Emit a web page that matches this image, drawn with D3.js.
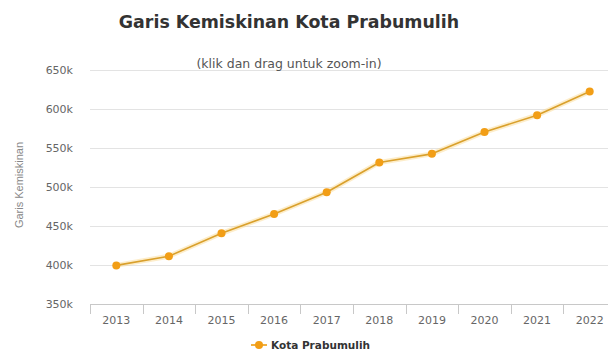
<!DOCTYPE html>
<html>
<head>
<meta charset="utf-8">
<script src="https://cdn.jsdelivr.net/npm/d3@7"></script>
<style>
  html, body { margin: 0; padding: 0; background: #fff; }
  svg { display: block; }
</style>
</head>
<body>
<div id="chart"></div>
<script>
"use strict";

const years = ['2013', '2014', '2015', '2016', '2017', '2018', '2019', '2020', '2021', '2022']
    , garisKemiskinan = [399500, 411300, 440600, 465400, 493200, 531500, 542500, 570500, 592000, 622500]
    , yTicks = [350000, 400000, 450000, 500000, 550000, 600000, 650000]
    , seriesName = 'Kota Prabumulih'

const WIDTH = 608
    , HEIGHT = 358
    , FONT = '"DejaVu Sans", Verdana, sans-serif'
    , ORANGE = '#f29e16'

const svg = d3.select('#chart').append('svg')
  .attr('width', WIDTH)
  .attr('height', HEIGHT)

/*
 * Scales. The plot runs a little past the right edge, like the screenshot
 ***/
const xScale = d3.scaleBand()
  .domain(years)
  .range([90, 616])

const yScale = d3.scaleLinear()
  .domain([350000, 650000])
  .range([304, 70])

const xCenter = d => xScale(d) + xScale.bandwidth() / 2

/*
 * Grid lines and y labels
 ***/
const yAxis = d3.axisLeft(yScale)
  .tickValues(yTicks)
  .tickSize(0)
  .tickPadding(17)
  .tickFormat(d => (d / 1000) + 'k')

const yAxisG = svg.append('g')
  .attr('transform', 'translate(90,0)')
  .call(yAxis)

yAxisG.select('.domain').remove()
yAxisG.selectAll('text')
  .attr('fill', '#666')
  .style('font-family', FONT)
  .style('font-size', '11px')

svg.append('g')
  .selectAll('line')
  .data(yTicks.slice(1))
  .enter()
  .append('line')
  .attr('x1', 90)
  .attr('x2', 616)
  .attr('y1', d => Math.round(yScale(d)) + 0.5)
  .attr('y2', d => Math.round(yScale(d)) + 0.5)
  .attr('stroke', '#e3e3e3')

/*
 * X axis, ticks between the categories
 ***/
const xAxis = d3.axisBottom(xScale)
  .tickSize(0)
  .tickPadding(12)

const xAxisG = svg.append('g')
  .attr('transform', 'translate(0,304)')
  .call(xAxis)

xAxisG.select('.domain')
  .attr('stroke', '#c8c8c8')
xAxisG.selectAll('text')
  .attr('fill', '#666')
  .style('font-family', FONT)
  .style('font-size', '11px')

xAxisG.append('g')
  .selectAll('line')
  .data(years)
  .enter()
  .append('line')
  .attr('x1', d => Math.round(xScale(d)) + 0.5)
  .attr('x2', d => Math.round(xScale(d)) + 0.5)
  .attr('y1', 0)
  .attr('y2', 10)
  .attr('stroke', '#c8c8c8')

/*
 * Titles
 ***/
svg.append('text')
  .attr('x', 289)
  .attr('y', 28)
  .attr('text-anchor', 'middle')
  .attr('fill', '#333')
  .style('font-family', FONT)
  .style('font-weight', 'bold')
  .style('font-size', '17.4px')
  .text('Garis Kemiskinan Kota Prabumulih')

svg.append('text')
  .attr('x', 289)
  .attr('y', 68)
  .attr('text-anchor', 'middle')
  .attr('fill', '#555')
  .style('font-family', FONT)
  .style('font-size', '12.5px')
  .text('(klik dan drag untuk zoom-in)')

svg.append('text')
  .attr('transform', 'translate(23,185) rotate(-90)')
  .attr('text-anchor', 'middle')
  .attr('fill', '#888')
  .style('font-family', '"Liberation Sans", Arial, sans-serif')
  .style('font-size', '11px')
  .text('Garis Kemiskinan')

/*
 * The series: a soft halo, the line and the markers
 ***/
const points = years.map((y, i) => [xCenter(y), yScale(garisKemiskinan[i])])
const line = d3.line()

svg.append('path')
  .attr('d', line(points))
  .attr('fill', 'none')
  .attr('stroke', '#fbd88a')
  .attr('stroke-opacity', 0.45)
  .attr('stroke-width', 5)
  .attr('stroke-linejoin', 'round')

svg.append('path')
  .attr('d', line(points))
  .attr('fill', 'none')
  .attr('stroke', '#d9a02c')
  .attr('stroke-width', 1.6)
  .attr('stroke-linejoin', 'round')

svg.append('g')
  .selectAll('circle')
  .data(points)
  .enter()
  .append('circle')
  .attr('cx', d => d[0])
  .attr('cy', d => d[1])
  .attr('r', 4)
  .attr('fill', ORANGE)

/*
 * Legend
 ***/
const legend = svg.append('g')
  .attr('transform', 'translate(251,345)')

legend.append('line')
  .attr('x1', 0)
  .attr('x2', 16)
  .attr('stroke', '#f0b040')
  .attr('stroke-width', 2)

legend.append('circle')
  .attr('cx', 8)
  .attr('r', 4)
  .attr('fill', ORANGE)

legend.append('text')
  .attr('x', 20)
  .attr('y', 4)
  .attr('fill', '#333')
  .style('font-family', FONT)
  .style('font-weight', 'bold')
  .style('font-size', '10.5px')
  .text(seriesName)
</script>
</body>
</html>
